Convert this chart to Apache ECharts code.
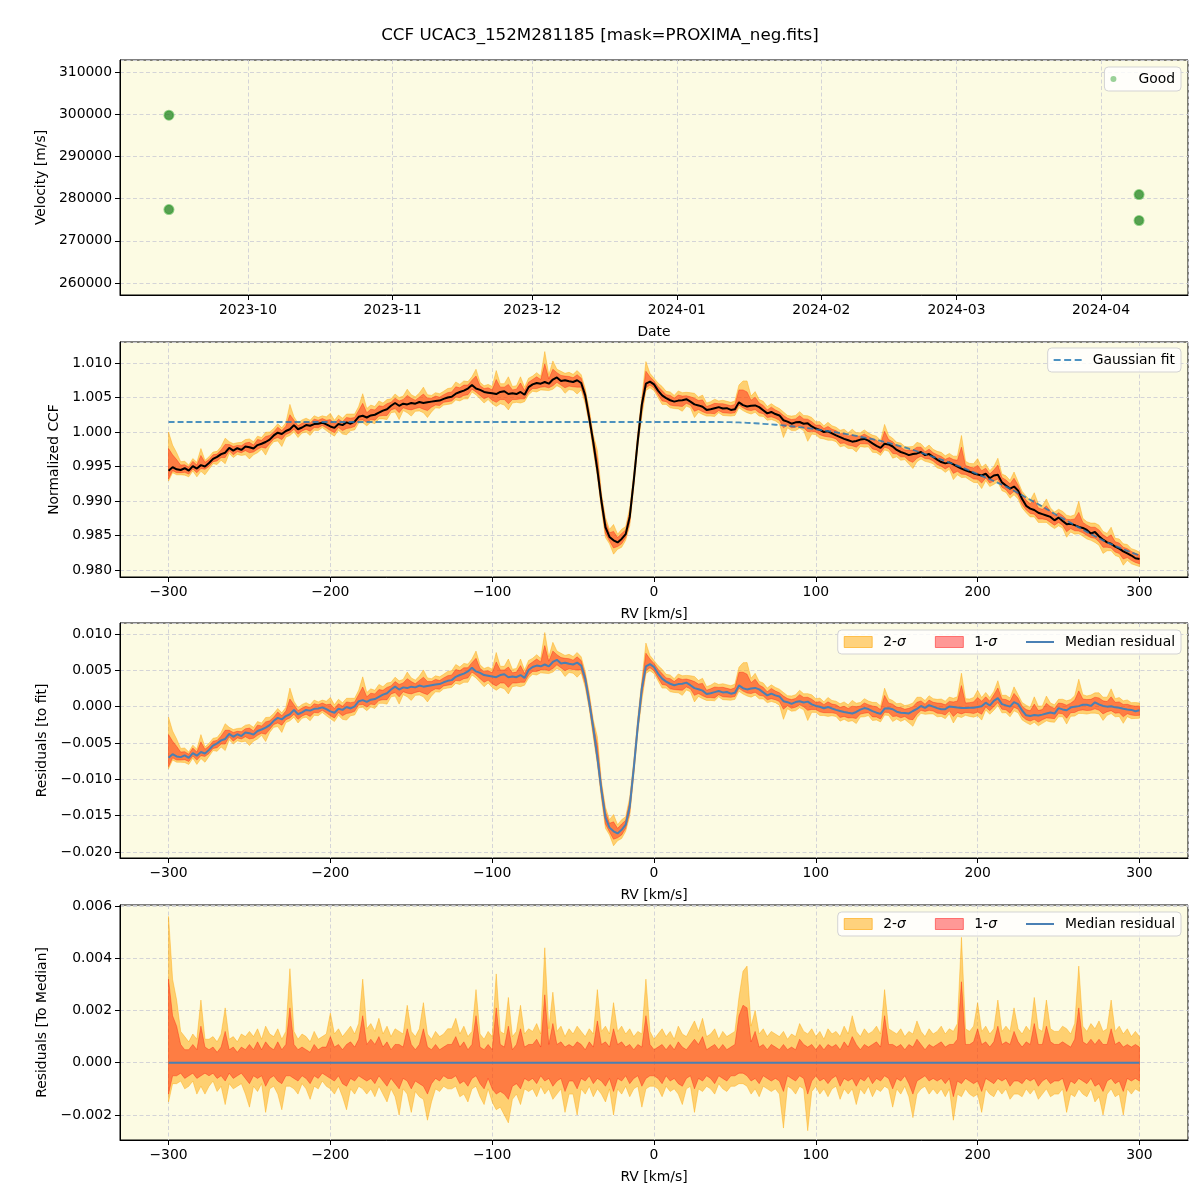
<!DOCTYPE html>
<html>
<head>
<meta charset="utf-8">
<script src="https://cdn.jsdelivr.net/npm/echarts@6/dist/echarts.min.js"></script>
<style>
html,body{margin:0;padding:0;background:#fff;}
#chart{width:1200px;height:1200px;}
</style>
</head>
<body>
<div id="chart"></div>
<script>
// ---------- Panel 1: radial velocities ----------
const obsDates = ['2023-09-14T01:00:00Z','2023-09-14T01:00:00Z','2024-04-09T04:00:00Z','2024-04-09T04:00:00Z'];
const obsVel = [299760, 277400, 280950, 274800];

// ---------- RV grid (km/s) ----------
const rv = [
-300,-297.5,-295,-292.5,-290,-287.5,-285,-282.5,-280,-277.5,
-275,-272.5,-270,-267.5,-265,-262.5,-260,-257.5,-255,-252.5,
-250,-247.5,-245,-242.5,-240,-237.5,-235,-232.5,-230,-227.5,
-225,-222.5,-220,-217.5,-215,-212.5,-210,-207.5,-205,-202.5,
-200,-197.5,-195,-192.5,-190,-187.5,-185,-182.5,-180,-177.5,
-175,-172.5,-170,-167.5,-165,-162.5,-160,-157.5,-155,-152.5,
-150,-147.5,-145,-142.5,-140,-137.5,-135,-132.5,-130,-127.5,
-125,-122.5,-120,-117.5,-115,-112.5,-110,-107.5,-105,-102.5,
-100,-97.5,-95,-92.5,-90,-87.5,-85,-82.5,-80,-77.5,
-75,-72.5,-70,-67.5,-65,-62.5,-60,-57.5,-55,-52.5,
-50,-47.5,-45,-42.5,-40,-37.5,-35,-32.5,-30,-27.5,
-25,-22.5,-20,-17.5,-15,-12.5,-10,-7.5,-5,-2.5,
0,2.5,5,7.5,10,12.5,15,17.5,20,22.5,
25,27.5,30,32.5,35,37.5,40,42.5,45,47.5,
50,52.5,55,57.5,60,62.5,65,67.5,70,72.5,
75,77.5,80,82.5,85,87.5,90,92.5,95,97.5,
100,102.5,105,107.5,110,112.5,115,117.5,120,122.5,
125,127.5,130,132.5,135,137.5,140,142.5,145,147.5,
150,152.5,155,157.5,160,162.5,165,167.5,170,172.5,
175,177.5,180,182.5,185,187.5,190,192.5,195,197.5,
200,202.5,205,207.5,210,212.5,215,217.5,220,222.5,
225,227.5,230,232.5,235,237.5,240,242.5,245,247.5,
250,252.5,255,257.5,260,262.5,265,267.5,270,272.5,
275,277.5,280,282.5,285,287.5,290,292.5,295,297.5,
300];

// ---------- Median normalized CCF ----------
const ccfMedian = [
0.99440,0.99490,0.99460,0.99450,0.99475,0.99440,0.99505,0.99470,0.99520,0.99500,
0.99550,0.99610,0.99640,0.99680,0.99700,0.99770,0.99730,0.99765,0.99740,0.99790,
0.99780,0.99760,0.99810,0.99830,0.99855,0.99890,0.99950,0.99990,0.99970,1.00015,
1.00040,1.00100,1.00040,1.00065,1.00100,1.00090,1.00115,1.00120,1.00135,1.00110,
1.00080,1.00060,1.00115,1.00100,1.00140,1.00120,1.00150,1.00220,1.00235,1.00210,
1.00240,1.00250,1.00280,1.00310,1.00330,1.00380,1.00420,1.00380,1.00410,1.00400,
1.00420,1.00410,1.00435,1.00420,1.00430,1.00440,1.00450,1.00455,1.00480,1.00500,
1.00510,1.00555,1.00580,1.00600,1.00630,1.00680,1.00630,1.00610,1.00580,1.00570,
1.00560,1.00550,1.00580,1.00590,1.00550,1.00560,1.00550,1.00580,1.00540,1.00650,
1.00690,1.00710,1.00700,1.00725,1.00700,1.00760,1.00790,1.00740,1.00750,1.00735,
1.00725,1.00750,1.00710,1.00530,1.00200,0.99850,0.99450,0.99000,0.98620,0.98480,
0.98430,0.98400,0.98450,0.98520,0.98770,0.99300,0.99880,1.00400,1.00700,1.00730,
1.00690,1.00600,1.00530,1.00490,1.00460,1.00440,1.00455,1.00460,1.00475,1.00440,
1.00400,1.00385,1.00365,1.00320,1.00330,1.00345,1.00360,1.00340,1.00345,1.00320,
1.00330,1.00430,1.00390,1.00370,1.00380,1.00385,1.00360,1.00315,1.00270,1.00290,
1.00260,1.00240,1.00170,1.00150,1.00120,1.00140,1.00145,1.00120,1.00125,1.00080,
1.00050,1.00030,1.00000,1.00010,0.99980,0.99950,0.99925,0.99900,0.99880,0.99860,
0.99870,0.99890,0.99900,0.99875,0.99835,0.99800,0.99770,0.99830,0.99820,0.99790,
0.99740,0.99710,0.99690,0.99665,0.99680,0.99690,0.99710,0.99665,0.99680,0.99640,
0.99600,0.99565,0.99545,0.99560,0.99530,0.99500,0.99470,0.99445,0.99425,0.99400,
0.99385,0.99370,0.99395,0.99330,0.99370,0.99380,0.99270,0.99225,0.99180,0.99210,
0.99150,0.99030,0.98930,0.98890,0.98870,0.98830,0.98810,0.98790,0.98770,0.98720,
0.98760,0.98710,0.98665,0.98670,0.98650,0.98625,0.98610,0.98580,0.98530,0.98550,
0.98490,0.98440,0.98400,0.98380,0.98340,0.98310,0.98270,0.98240,0.98210,0.98170,
0.98160];

// ---------- Gaussian fit ----------
const gaussFit = [
1.00145,1.00145,1.00145,1.00145,1.00145,1.00145,1.00145,1.00145,1.00145,1.00145,
1.00145,1.00145,1.00145,1.00145,1.00145,1.00145,1.00145,1.00145,1.00145,1.00145,
1.00145,1.00145,1.00145,1.00145,1.00145,1.00145,1.00145,1.00145,1.00145,1.00145,
1.00145,1.00145,1.00145,1.00145,1.00145,1.00145,1.00145,1.00145,1.00145,1.00145,
1.00145,1.00145,1.00145,1.00145,1.00145,1.00145,1.00145,1.00145,1.00145,1.00145,
1.00145,1.00145,1.00145,1.00145,1.00145,1.00145,1.00145,1.00145,1.00145,1.00145,
1.00145,1.00145,1.00145,1.00145,1.00145,1.00145,1.00145,1.00145,1.00145,1.00145,
1.00145,1.00145,1.00145,1.00145,1.00145,1.00145,1.00145,1.00145,1.00145,1.00145,
1.00145,1.00145,1.00145,1.00145,1.00145,1.00145,1.00145,1.00145,1.00145,1.00145,
1.00145,1.00145,1.00145,1.00145,1.00145,1.00145,1.00145,1.00145,1.00145,1.00145,
1.00145,1.00145,1.00145,1.00145,1.00145,1.00145,1.00145,1.00145,1.00145,1.00145,
1.00145,1.00145,1.00145,1.00145,1.00145,1.00145,1.00145,1.00145,1.00145,1.00145,
1.00145,1.00145,1.00145,1.00145,1.00145,1.00145,1.00145,1.00145,1.00145,1.00145,
1.00145,1.00145,1.00145,1.00145,1.00145,1.00145,1.00145,1.00144,1.00143,1.00142,
1.00140,1.00138,1.00136,1.00133,1.00130,1.00127,1.00123,1.00119,1.00115,1.00110,
1.00105,1.00100,1.00095,1.00089,1.00083,1.00077,1.00070,1.00063,1.00056,1.00048,
1.00040,1.00032,1.00023,1.00014,1.00005,0.99995,0.99985,0.99975,0.99965,0.99954,
0.99943,0.99932,0.99920,0.99908,0.99896,0.99883,0.99870,0.99856,0.99841,0.99826,
0.99810,0.99793,0.99776,0.99758,0.99740,0.99721,0.99701,0.99681,0.99660,0.99640,
0.99620,0.99600,0.99580,0.99558,0.99535,0.99513,0.99490,0.99465,0.99440,0.99415,
0.99390,0.99365,0.99340,0.99315,0.99290,0.99263,0.99235,0.99208,0.99180,0.99148,
0.99115,0.99083,0.99050,0.99018,0.98985,0.98953,0.98920,0.98885,0.98850,0.98815,
0.98780,0.98748,0.98715,0.98683,0.98650,0.98618,0.98585,0.98553,0.98520,0.98490,
0.98460,0.98430,0.98400,0.98375,0.98350,0.98325,0.98300,0.98278,0.98255,0.98233,
0.98210];

// ---------- sigma bands, offsets from the median, in units of 1e-4 ----------
const sig2Up = [
56,32,24,12,10,8,11,9,24,9,
9,10,8,11,21,9,10,8,11,10,
12,10,13,9,14,11,10,13,9,12,
36,12,9,11,10,8,12,9,10,11,
19,11,13,10,12,14,11,15,32,13,
15,12,17,11,14,10,13,12,11,22,
12,10,13,23,11,9,12,10,11,13,
13,17,11,14,10,12,28,11,9,12,
10,34,12,11,25,10,12,22,11,13,
12,15,11,44,13,27,12,14,10,13,
11,14,12,10,13,11,28,12,14,11,
23,12,14,11,13,10,12,11,32,12,
9,11,13,10,12,9,14,11,10,13,
16,12,17,10,11,13,9,12,10,11,
12,25,35,37,14,20,11,13,10,12,
11,10,12,9,11,10,15,12,11,13,
10,12,9,13,11,12,10,14,11,18,
12,10,13,11,12,14,11,28,13,12,
11,13,10,12,11,16,12,10,13,11,
12,14,11,13,12,15,48,13,12,14,
23,12,14,11,13,24,12,14,12,21,
13,11,14,12,25,13,12,24,13,12,
12,14,13,11,15,37,14,12,15,13,
16,12,13,24,12,14,11,13,10,12,
10];
const sig1Up = [
32,18,14,7,5,5,7,5,14,6,
5,6,4,6,12,5,6,4,6,5,
7,5,8,5,8,6,5,8,5,7,
21,7,5,6,5,4,7,5,6,6,
10,6,7,5,7,8,6,9,18,7,
9,7,10,6,8,5,7,7,6,13,
7,5,7,13,6,5,7,5,6,7,
7,10,6,8,5,7,18,6,5,7,
5,21,7,6,14,5,7,13,6,7,
7,9,6,26,7,15,7,8,6,7,
6,8,7,5,8,6,16,7,8,6,
13,7,8,6,7,5,7,6,18,7,
5,6,7,5,7,5,8,6,5,7,
9,7,10,5,6,7,5,7,5,6,
7,18,22,21,8,12,6,7,5,7,
6,5,7,5,6,5,9,7,6,7,
5,7,5,7,6,7,5,8,6,10,
7,5,7,6,7,8,6,18,7,7,
6,7,5,7,6,9,7,5,7,6,
7,8,6,7,7,9,31,7,7,8,
13,7,8,6,8,14,7,8,7,12,
8,6,8,7,15,7,7,14,8,7,
7,8,7,6,9,21,8,7,9,7,
9,7,7,13,7,8,6,7,6,7,
6];
const sig1Lo = [
-12,-5,-5,-4,-6,-5,-4,-6,-5,-4,
-5,-4,-6,-5,-7,-4,-6,-5,-4,-6,
-8,-5,-6,-5,-9,-6,-5,-7,-8,-5,
-5,-6,-7,-5,-6,-8,-5,-6,-4,-5,
-6,-7,-5,-8,-9,-6,-7,-5,-6,-7,
-6,-8,-5,-7,-9,-6,-8,-10,-6,-7,
-10,-7,-8,-9,-12,-8,-6,-7,-5,-6,
-6,-5,-8,-7,-9,-6,-5,-8,-10,-6,
-10,-12,-11,-12,-14,-9,-8,-10,-6,-7,
-6,-8,-5,-7,-6,-9,-7,-6,-11,-7,
-7,-10,-6,-7,-5,-8,-6,-7,-9,-6,
-11,-6,-7,-5,-8,-6,-5,-9,-6,-5,
-5,-6,-8,-5,-7,-6,-8,-9,-6,-5,
-10,-6,-7,-5,-6,-8,-5,-6,-7,-5,
-5,-4,-4,-5,-7,-6,-8,-5,-6,-7,
-6,-7,-11,-5,-6,-7,-5,-6,-12,-7,
-5,-7,-6,-8,-6,-5,-9,-6,-7,-6,
-9,-6,-7,-5,-8,-6,-7,-5,-6,-10,
-6,-7,-5,-8,-12,-7,-6,-5,-7,-6,
-7,-6,-8,-6,-13,-7,-8,-6,-7,-8,
-7,-11,-6,-7,-8,-6,-7,-6,-9,-7,
-7,-8,-6,-7,-6,-9,-7,-6,-8,-7,
-7,-6,-11,-7,-8,-6,-7,-8,-6,-9,
-8,-11,-7,-6,-8,-7,-11,-6,-7,-6,
-7];
const sig2Lo = [
-15,-8,-8,-7,-10,-9,-7,-12,-9,-12,
-9,-7,-11,-9,-16,-8,-10,-9,-8,-12,
-17,-9,-11,-8,-19,-10,-9,-12,-18,-9,
-9,-10,-12,-8,-10,-14,-9,-10,-7,-9,
-10,-12,-9,-13,-18,-10,-12,-9,-10,-12,
-10,-13,-9,-12,-15,-10,-13,-20,-10,-12,
-19,-11,-13,-14,-22,-15,-10,-11,-9,-10,
-10,-9,-13,-12,-15,-10,-9,-13,-16,-10,
-15,-18,-17,-20,-23,-14,-12,-16,-10,-11,
-10,-13,-9,-12,-10,-14,-12,-10,-19,-12,
-12,-20,-10,-12,-9,-13,-10,-12,-15,-10,
-20,-10,-12,-9,-13,-10,-9,-17,-10,-9,
-9,-10,-13,-9,-11,-10,-12,-16,-10,-9,
-19,-10,-11,-9,-10,-12,-8,-10,-11,-9,
-9,-8,-8,-9,-12,-10,-13,-9,-10,-11,
-10,-12,-25,-9,-10,-12,-9,-10,-26,-11,
-9,-12,-10,-13,-10,-9,-14,-10,-12,-10,
-16,-10,-12,-9,-13,-10,-11,-9,-10,-17,
-10,-12,-9,-13,-21,-12,-10,-9,-12,-10,
-12,-10,-13,-10,-22,-12,-13,-10,-12,-13,
-12,-19,-10,-12,-13,-10,-12,-10,-14,-12,
-12,-13,-10,-12,-10,-14,-12,-10,-13,-12,
-12,-10,-19,-12,-13,-10,-12,-13,-10,-15,
-13,-20,-12,-10,-13,-12,-20,-10,-12,-10,
-11];
const BAND_UNIT = 1e-4;

const panelTitles = ['Velocity [m/s]','Normalized CCF','Residuals [to fit]','Residuals [To Median]'];

// ---------- build ----------
const FONT = 'DejaVu Sans';
const FS = 13.9;
const BG = '#fcfbe3';
const GRIDLINE = {show:true, lineStyle:{color:'#cfcfd6', width:0.9, type:[4,2.5]}};
const C2 = 'rgba(255,165,0,0.5)';
const C1 = 'rgba(255,0,0,0.4)';
const BLUE_MED = '#4a80b4';
const BLUE_FIT = 'rgba(31,119,180,0.8)';
const minus = s => String(s).replace('-', '\u2212');

const residFit = ccfMedian.map((v,i)=> v - gaussFit[i]);
const residMed = ccfMedian.map((v,i)=> v - ccfMedian[i]);

const grids = [
  {left:120, top:60, width:1068, height:235},
  {left:120, top:342, width:1068, height:235},
  {left:120, top:623, width:1068, height:235},
  {left:120, top:905, width:1068, height:235}
].map(g => Object.assign(g, {show:true, backgroundColor:BG, borderColor:'#000', borderWidth:1, containLabel:false, outerBoundsMode:'none'}));

const axisCommon = {
  axisLine:{show:true, onZero:false, lineStyle:{color:'#000', width:1}},
  axisTick:{show:true, inside:false, length:5, lineStyle:{color:'#000', width:1}},
  splitLine:GRIDLINE,
  nameTextStyle:{fontFamily:FONT, fontSize:FS, color:'#000'},
};
function labelStyle(fmt){
  return {fontFamily:FONT, fontSize:FS, color:'#000', margin:8, showMinLabel:false, showMaxLabel:false, formatter:fmt, hideOverlap:false};
}

const xAxes = [
  Object.assign({}, axisCommon, {
    type:'time', gridIndex:0,
    min:Date.parse('2023-09-03T13:00:00Z'), max:Date.parse('2024-04-19T16:00:00Z'),
    splitNumber:7,
    name:'Date', nameLocation:'middle', nameGap:30,
    axisLabel:labelStyle('{yyyy}-{MM}'),
    minorTick:{show:false}
  })
];
for (let k=1;k<4;k++){
  xAxes.push(Object.assign({}, axisCommon, {
    type:'value', gridIndex:k, min:-330, max:330, minInterval:100, maxInterval:100,
    name:'RV [km/s]', nameLocation:'middle', nameGap:30,
    axisLabel:labelStyle(v => minus(Math.round(v)))
  }));
}
const yRanges = [
  {min:257160, max:312840, step:10000, fmt:v=>String(Math.round(v)), gap:63},
  {min:0.97899, max:1.01304, step:0.005, fmt:v=>minus(v.toFixed(3)), gap:50},
  {min:-0.02083, max:0.01151, step:0.005, fmt:v=>minus((Math.abs(v)<1e-9?0:v).toFixed(3)), gap:61},
  {min:-0.002957, max:0.006038, step:0.002, fmt:v=>minus((Math.abs(v)<1e-9?0:v).toFixed(3)), gap:61}
];
const yAxes = yRanges.map((r,k)=> Object.assign({}, axisCommon, {
  type:'value', gridIndex:k, min:r.min, max:r.max, minInterval:r.step, maxInterval:r.step,
  name:panelTitles[k], nameLocation:'middle', nameGap:r.gap,
  axisLabel:labelStyle(r.fmt)
}));

const series = [];
series.push({
  name:'Good', type:'scatter', xAxisIndex:0, yAxisIndex:0,
  data: obsDates.map((d,i)=>[Date.parse(d), obsVel[i]]),
  symbol:'circle', symbolSize:9,
  itemStyle:{color:'rgba(25,125,25,0.9)', borderColor:'rgba(44,160,44,0.65)', borderWidth:2}
});

// Filled band between lo and hi, drawn through the axis scales (api.coord)
function bandSeries(k, name, lo, hi, color){
  return {
    name, type:'custom', xAxisIndex:k, yAxisIndex:k, silent:true, clip:true,
    data: rv.map((x,i)=>[x, lo[i], hi[i]]),
    encode:{x:0, y:[1,2]},
    renderItem:(params, api)=>{
      if (params.dataIndex !== 0) return null;
      const top = [], bot = [];
      for (let i=0;i<rv.length;i++){
        top.push(api.coord([rv[i], hi[i]]));
        bot.push(api.coord([rv[i], lo[i]]));
      }
      return {type:'polygon', shape:{points: top.concat(bot.reverse())},
        style:{fill:color, stroke:color, lineWidth:0.8}};
    }
  };
}

function addPanel(k, med, medName, medColor, medWidth){
  const lo2 = med.map((v,i)=>v + sig2Lo[i]*BAND_UNIT);
  const hi2 = med.map((v,i)=>v + sig2Up[i]*BAND_UNIT);
  const lo1 = med.map((v,i)=>v + sig1Lo[i]*BAND_UNIT);
  const hi1 = med.map((v,i)=>v + sig1Up[i]*BAND_UNIT);
  series.push(bandSeries(k, '2-σ', lo2, hi2, C2));
  series.push(bandSeries(k, '1-σ', lo1, hi1, C1));
  series.push({name:medName, type:'line', xAxisIndex:k, yAxisIndex:k, symbol:'none', showSymbol:false, silent:true,
    lineStyle:{color:medColor, width:medWidth}, data: rv.map((x,i)=>[x, med[i]])});
}
addPanel(1, ccfMedian, 'Median CCF', '#000', 2);
series.push({name:'Gaussian fit', type:'line', xAxisIndex:1, yAxisIndex:1, symbol:'none', showSymbol:false, silent:true,
  lineStyle:{color:BLUE_FIT, width:1.8, type:[6,3]}, data: rv.map((x,i)=>[x, gaussFit[i]])});
addPanel(2, residFit, 'Median residual', BLUE_MED, 2);
addPanel(3, residMed, 'Median residual', BLUE_MED, 2);

const legendBase = {
  selectedMode:false, orient:'horizontal', right:19,
  backgroundColor:'rgba(255,255,255,0.8)', borderColor:'#d3d3d3', borderWidth:1, borderRadius:4,
  padding:[5,6,5,6], itemWidth:28, itemHeight:11, symbolKeepAspect:true,
  textStyle:{fontFamily:FONT, fontSize:FS, color:'#000', padding:[0,0,0,6],
    rich:{i:{fontFamily:FONT, fontSize:FS, fontStyle:'italic', color:'#000'}}},
  formatter: n => n.replace('σ','{i|σ}')
};
const LINE_ICON = 'path://M0,0H28V2H0Z';
const DASH_ICON = 'path://M0,0H7V2H0Z M10.5,0H17.5V2H10.5Z M21,0H28V2H21Z';
const sigmaLegendData = [
  {name:'2-σ', icon:'rect', itemStyle:{color:C2, borderColor:'rgba(255,165,0,0.6)', borderWidth:1}},
  {name:'1-σ', icon:'rect', itemStyle:{color:C1, borderColor:'rgba(255,0,0,0.45)', borderWidth:1}},
  {name:'Median residual', icon:LINE_ICON, itemStyle:{color:BLUE_MED, borderWidth:0}}
];
const legends = [
  Object.assign({}, legendBase, {top:67, itemHeight:6, data:[{name:'Good', icon:'circle', itemStyle:{color:'rgba(44,160,44,0.6)', borderWidth:0}}]}),
  Object.assign({}, legendBase, {top:348, data:[{name:'Gaussian fit', icon:DASH_ICON, itemStyle:{color:BLUE_FIT, borderWidth:0}}]}),
  Object.assign({}, legendBase, {top:630, itemGap:29, data:sigmaLegendData}),
  Object.assign({}, legendBase, {top:912, itemGap:29, data:sigmaLegendData})
];

const chart = echarts.init(document.getElementById('chart'), null, {renderer:'canvas'});
chart.setOption({
  animation:false,
  useUTC:true,
  backgroundColor:'#fff',
  title:{text:'CCF UCAC3_152M281185 [mask=PROXIMA_neg.fits]', left:'center', top:22,
    textStyle:{fontFamily:FONT, fontSize:16.7, fontWeight:'normal', color:'#000'}},
  grid:grids, xAxis:xAxes, yAxis:yAxes, legend:legends, series:series
});
</script>
</body>
</html>
